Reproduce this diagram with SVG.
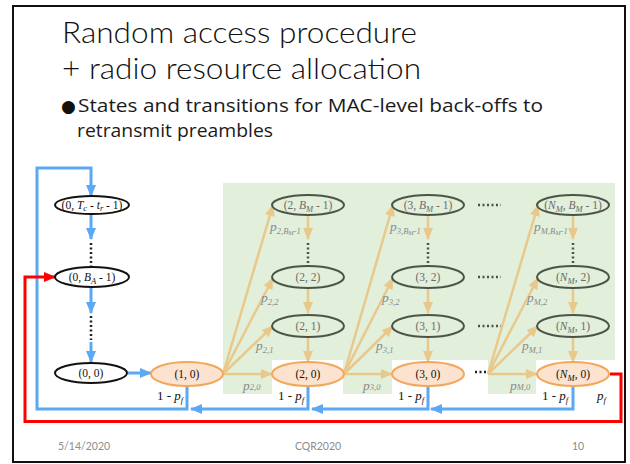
<svg xmlns="http://www.w3.org/2000/svg" width="630" height="464" viewBox="0 0 630 464">
  <style>
    .title { font-family: "Lato", "Open Sans", "Liberation Sans", sans-serif; font-weight: 300; font-size: 30px; fill: #111; }
    .bullet { font-family: "Open Sans", "Liberation Sans", sans-serif; font-size: 18.5px; fill: #1a1a1a; }
    .dot { font-family: "DejaVu Sans", sans-serif; font-size: 17px; fill: #111; }
    .foot { font-family: "Lato", "Open Sans", "Liberation Sans", sans-serif; font-size: 10.5px; fill: #8c8c8c; }
    .lbl { font-family: "Liberation Serif", "Times New Roman", serif; font-size: 11.5px; fill: #111; text-anchor: middle; }
    .glbl { font-family: "Liberation Serif", "Times New Roman", serif; font-size: 11.5px; fill: #6b6b6b; text-anchor: middle; }
    .prob { font-family: "Liberation Serif", "Times New Roman", serif; font-size: 13.5px; font-style: italic; fill: #8a8a8a; }
    .pf { font-family: "Liberation Serif", "Times New Roman", serif; font-size: 13px; fill: #111; }
    .it { font-style: italic; }
    .sub { font-size: 8.5px; }
    .black-node { fill: #fff; stroke: #111; stroke-width: 2; }
    .green-node { fill: none; stroke: #4b5547; stroke-width: 2; }
    .orange-node { fill: #fce3cf; stroke: #f4a75c; stroke-width: 2; }
    .blue { fill: none; stroke: #5ba8f5; stroke-width: 3; marker-end: url(#ahBlue); }
    .tan { fill: none; stroke: #e9c98b; stroke-width: 2.5; marker-end: url(#ahTan); }
    .red { fill: none; stroke: #ff0000; stroke-width: 3; marker-end: url(#ahRed); }
    .dots { stroke: #222; stroke-width: 2.5; stroke-dasharray: 2 2.5; fill: none; }
    .gdots { stroke: #4b5547; stroke-width: 2.5; stroke-dasharray: 2 2.5; fill: none; }
  </style>
  <defs>
    <marker id="ahBlue" markerUnits="userSpaceOnUse" markerWidth="12" markerHeight="12" viewBox="0 0 12 12" refX="11" refY="6" orient="auto">
      <path d="M0,1 L12,6 L0,11 Z" fill="#5ba8f5"/>
    </marker>
    <marker id="ahTan" markerUnits="userSpaceOnUse" markerWidth="12" markerHeight="12" viewBox="0 0 12 12" refX="11" refY="6" orient="auto">
      <path d="M0,1 L12,6 L0,11 Z" fill="#e9c98b"/>
    </marker>
    <marker id="ahRed" markerUnits="userSpaceOnUse" markerWidth="12" markerHeight="12" viewBox="0 0 12 12" refX="11" refY="6" orient="auto">
      <path d="M0,1 L12,6 L0,11 Z" fill="#ff0000"/>
    </marker>
  </defs>

  <!-- slide frame -->
  <rect x="13" y="6" width="612" height="456" fill="#fff" stroke="#111" stroke-width="2"/>

  <!-- heading and bullet -->
  <text class="title" x="62" y="43" textLength="355" lengthAdjust="spacingAndGlyphs">Random access procedure</text>
  <text class="title" x="62" y="79" textLength="359" lengthAdjust="spacingAndGlyphs">+ radio resource allocation</text>
  <text class="dot" x="61" y="111.5">●</text>
  <text class="bullet" x="78" y="111.5" textLength="465" lengthAdjust="spacingAndGlyphs">States and transitions for MAC-level back-offs to</text>
  <text class="bullet" x="77" y="137" textLength="196" lengthAdjust="spacingAndGlyphs">retransmit preambles</text>

  <!-- shaded region of the MAC back-off states -->
  <g id="backoff-region" fill="#e2efda">
    <rect x="223" y="183" width="392" height="177"/>
    <rect x="223" y="360" width="49" height="34"/>
    <rect x="343" y="360" width="49" height="34"/>
    <rect x="488" y="360" width="48" height="34"/>
  </g>

  <!-- connectors -->
  <g id="connectors">
    <!-- retransmission loop back to the top state -->
    <path class="blue" d="M187,387 V409 H37 V168 H91 V196"/>
    <path class="blue" d="M91,214 V239"/>
    <path class="dots" d="M91,243 V266"/>
    <path class="blue" d="M91,288 V313"/>
    <path class="dots" d="M91,316 V340"/>
    <path class="blue" d="M91,342 V362"/>
    <path class="blue" d="M128,373 H151"/>
    <path class="blue" d="M308,386 V409 H191"/>
    <path class="blue" d="M428,386 V409 H312"/>
    <path class="blue" d="M573,386 V409 H431"/>
    <!-- failure path -->
    <path class="red" d="M610,374 H621 V421.5 H25 V277 H55"/>

    <!-- back-off stage 2 -->
    <path class="tan" d="M223,374 L273,205"/>
    <path class="tan" d="M223,374 L273,278"/>
    <path class="tan" d="M223,374 L273,326"/>
    <path class="tan" d="M223,374 H272"/>
    <path class="tan" d="M308,215 V239"/>
    <path class="gdots" d="M308,243 V264"/>
    <path class="tan" d="M308,288 V313"/>
    <path class="tan" d="M308,337 V362"/>

    <!-- back-off stage 3 -->
    <path class="tan" d="M344,374 L393,205"/>
    <path class="tan" d="M344,374 L393,278"/>
    <path class="tan" d="M344,374 L393,326"/>
    <path class="tan" d="M344,374 H392"/>
    <path class="tan" d="M428,215 V239"/>
    <path class="gdots" d="M428,243 V264"/>
    <path class="tan" d="M428,288 V313"/>
    <path class="tan" d="M428,337 V362"/>

    <!-- back-off stage N_M -->
    <path class="tan" d="M488,374 L538,205"/>
    <path class="tan" d="M488,374 L538,278"/>
    <path class="tan" d="M488,374 L538,326"/>
    <path class="tan" d="M488,374 H537"/>
    <path class="tan" d="M573,215 V239"/>
    <path class="gdots" d="M573,243 V264"/>
    <path class="tan" d="M573,288 V313"/>
    <path class="tan" d="M573,337 V362"/>

    <!-- elided stages -->
    <path class="gdots" d="M478,205 H501"/>
    <path class="gdots" d="M478,277 H501"/>
    <path class="gdots" d="M478,326 H501"/>
    <path class="dots" d="M475,372 H488"/>
  </g>

  <!-- transition probabilities -->
  <g id="probabilities" class="prob">
    <text x="270" y="231">p<tspan class="sub" dy="3">2,B</tspan><tspan font-size="6.5" dy="1">M</tspan><tspan class="sub" dy="-1">-1</tspan></text>
    <text x="261" y="302">p<tspan class="sub" dy="3">2,2</tspan></text>
    <text x="256" y="350">p<tspan class="sub" dy="3">2,1</tspan></text>
    <text x="243" y="390">p<tspan class="sub">2,0</tspan></text>
    <text x="390" y="231">p<tspan class="sub" dy="3">3,B</tspan><tspan font-size="6.5" dy="1">M</tspan><tspan class="sub" dy="-1">-1</tspan></text>
    <text x="382" y="302">p<tspan class="sub" dy="3">3,2</tspan></text>
    <text x="376" y="350">p<tspan class="sub" dy="3">3,1</tspan></text>
    <text x="363" y="390">p<tspan class="sub">3,0</tspan></text>
    <text x="534" y="231">p<tspan class="sub" dy="3">M,B</tspan><tspan font-size="6.5" dy="1">M</tspan><tspan class="sub" dy="-1">-1</tspan></text>
    <text x="527" y="302">p<tspan class="sub" dy="3">M,2</tspan></text>
    <text x="522" y="350">p<tspan class="sub" dy="3">M,1</tspan></text>
    <text x="510" y="390">p<tspan class="sub">M,0</tspan></text>
  </g>

  <!-- success / failure labels -->
  <g id="outcomes" class="pf">
    <text x="157" y="400">1 - <tspan class="it">p</tspan><tspan class="it sub" dy="3">f</tspan></text>
    <text x="278" y="400">1 - <tspan class="it">p</tspan><tspan class="it sub" dy="3">f</tspan></text>
    <text x="398" y="400">1 - <tspan class="it">p</tspan><tspan class="it sub" dy="3">f</tspan></text>
    <text x="542" y="400">1 - <tspan class="it">p</tspan><tspan class="it sub" dy="3">f</tspan></text>
    <text x="597" y="400"><tspan class="it">p</tspan><tspan class="it sub" dy="3">f</tspan></text>
  </g>

  <!-- states -->
  <g id="s0-top">
    <ellipse class="black-node" cx="92" cy="205" rx="37" ry="9"/>
    <text class="lbl" x="92" y="209" font-size="10.5">(0, <tspan class="it">T</tspan><tspan class="it sub" dy="2">c</tspan><tspan dy="-2"> - </tspan><tspan class="it">t</tspan><tspan class="it sub" dy="2">r</tspan><tspan dy="-2"> - 1)</tspan></text>
  </g>
  <g id="s0-BA">
    <ellipse class="black-node" cx="92" cy="277" rx="37" ry="10"/>
    <text class="lbl" x="92" y="281">(0, <tspan class="it">B</tspan><tspan class="it sub" dy="3">A</tspan><tspan dy="-3"> - 1)</tspan></text>
  </g>
  <g id="s0-0">
    <ellipse class="black-node" cx="91" cy="373" rx="36" ry="10"/>
    <text class="lbl" x="91" y="377">(0, 0)</text>
  </g>
  <g id="s1-0">
    <ellipse class="orange-node" cx="187" cy="374" rx="36" ry="12"/>
    <text class="lbl" x="187" y="378">(1, 0)</text>
  </g>

  <g id="s2-BM">
    <ellipse class="green-node" cx="308" cy="205" rx="36" ry="10"/>
    <text class="glbl" x="308" y="209">(2, <tspan class="it">B</tspan><tspan class="it sub" dy="3">M</tspan><tspan dy="-3"> - 1)</tspan></text>
  </g>
  <g id="s2-2">
    <ellipse class="green-node" cx="308" cy="277" rx="36" ry="11"/>
    <text class="glbl" x="308" y="281">(2, 2)</text>
  </g>
  <g id="s2-1">
    <ellipse class="green-node" cx="308" cy="326" rx="36" ry="11"/>
    <text class="glbl" x="308" y="330">(2, 1)</text>
  </g>
  <g id="s2-0">
    <ellipse class="orange-node" cx="308" cy="374" rx="36" ry="12"/>
    <text class="lbl" x="308" y="378">(2, 0)</text>
  </g>

  <g id="s3-BM">
    <ellipse class="green-node" cx="428" cy="205" rx="36" ry="10"/>
    <text class="glbl" x="428" y="209">(3, <tspan class="it">B</tspan><tspan class="it sub" dy="3">M</tspan><tspan dy="-3"> - 1)</tspan></text>
  </g>
  <g id="s3-2">
    <ellipse class="green-node" cx="428" cy="277" rx="36" ry="11"/>
    <text class="glbl" x="428" y="281">(3, 2)</text>
  </g>
  <g id="s3-1">
    <ellipse class="green-node" cx="428" cy="326" rx="36" ry="11"/>
    <text class="glbl" x="428" y="330">(3, 1)</text>
  </g>
  <g id="s3-0">
    <ellipse class="orange-node" cx="428" cy="374" rx="36" ry="12"/>
    <text class="lbl" x="428" y="378">(3, 0)</text>
  </g>

  <g id="sN-BM">
    <ellipse class="green-node" cx="573" cy="205" rx="36" ry="10"/>
    <text class="glbl" x="573" y="209">(<tspan class="it">N</tspan><tspan class="it sub" dy="3">M</tspan><tspan dy="-3">, </tspan><tspan class="it">B</tspan><tspan class="it sub" dy="3">M</tspan><tspan dy="-3"> - 1)</tspan></text>
  </g>
  <g id="sN-2">
    <ellipse class="green-node" cx="573" cy="277" rx="36" ry="11"/>
    <text class="glbl" x="573" y="281">(<tspan class="it">N</tspan><tspan class="it sub" dy="3">M</tspan><tspan dy="-3">, 2)</tspan></text>
  </g>
  <g id="sN-1">
    <ellipse class="green-node" cx="573" cy="326" rx="36" ry="11"/>
    <text class="glbl" x="573" y="330">(<tspan class="it">N</tspan><tspan class="it sub" dy="3">M</tspan><tspan dy="-3">, 1)</tspan></text>
  </g>
  <g id="sN-0">
    <ellipse class="orange-node" cx="573" cy="374" rx="36" ry="12"/>
    <text class="lbl" x="573" y="378">(<tspan class="it">N</tspan><tspan class="it sub" dy="3">M</tspan><tspan dy="-3">, 0)</tspan></text>
  </g>

  <!-- footer -->
  <text class="foot" x="58" y="450">5/14/2020</text>
  <text class="foot" x="318" y="450" text-anchor="middle">CQR2020</text>
  <text class="foot" x="572" y="450">10</text>
</svg>
